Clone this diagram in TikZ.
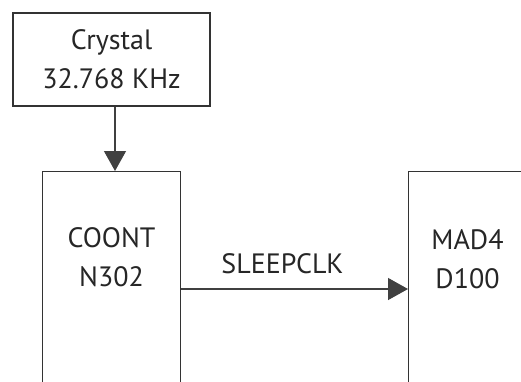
\documentclass[tikz,border=0pt]{standalone}
\usepackage{fontspec}
\setmainfont{PT Sans}
\usetikzlibrary{arrows.meta}

\tikzset{
  blk/.style={draw=black!80, line width=1.4pt, fill=white, inner sep=0pt},
  sig/.style={draw=black!75, line width=1.3pt, -{Triangle[length=20pt, width=22pt]}},
}

\begin{document}
\begin{tikzpicture}[x=1pt, y=-1pt, every node/.style={font=\fontsize{28}{39}\selectfont, text=black!85}]
\useasboundingbox (0,0) rectangle (521,381);
% blocks
\node[blk, align=center, minimum width=197pt, minimum height=93pt] (crystal) at (111.5,59.5) {Crystal\\32.768 KHz};
\node[blk, anchor=north west, minimum width=138pt, minimum height=300pt] (coont) at (42,171) {};
\node[blk, anchor=north west, minimum width=200pt, minimum height=300pt] (mad) at (408,171) {};
\node[align=center] (coonttxt) at (111.5,257.5) {COONT\\N302};
\node[align=center] (madtxt) at (467.5,259.5) {MAD4\\D100};
% signals
\draw[sig] ([xshift=3.5pt]crystal.south) -- ([xshift=3.5pt]crystal.south |- coont.north);
\coordinate (clk) at (0,289);
\draw[sig] (clk -| coont.east) -- (clk -| mad.west);
\node (clklbl) at (282.5,264) {SLEEPCLK};
\end{tikzpicture}
\end{document}
